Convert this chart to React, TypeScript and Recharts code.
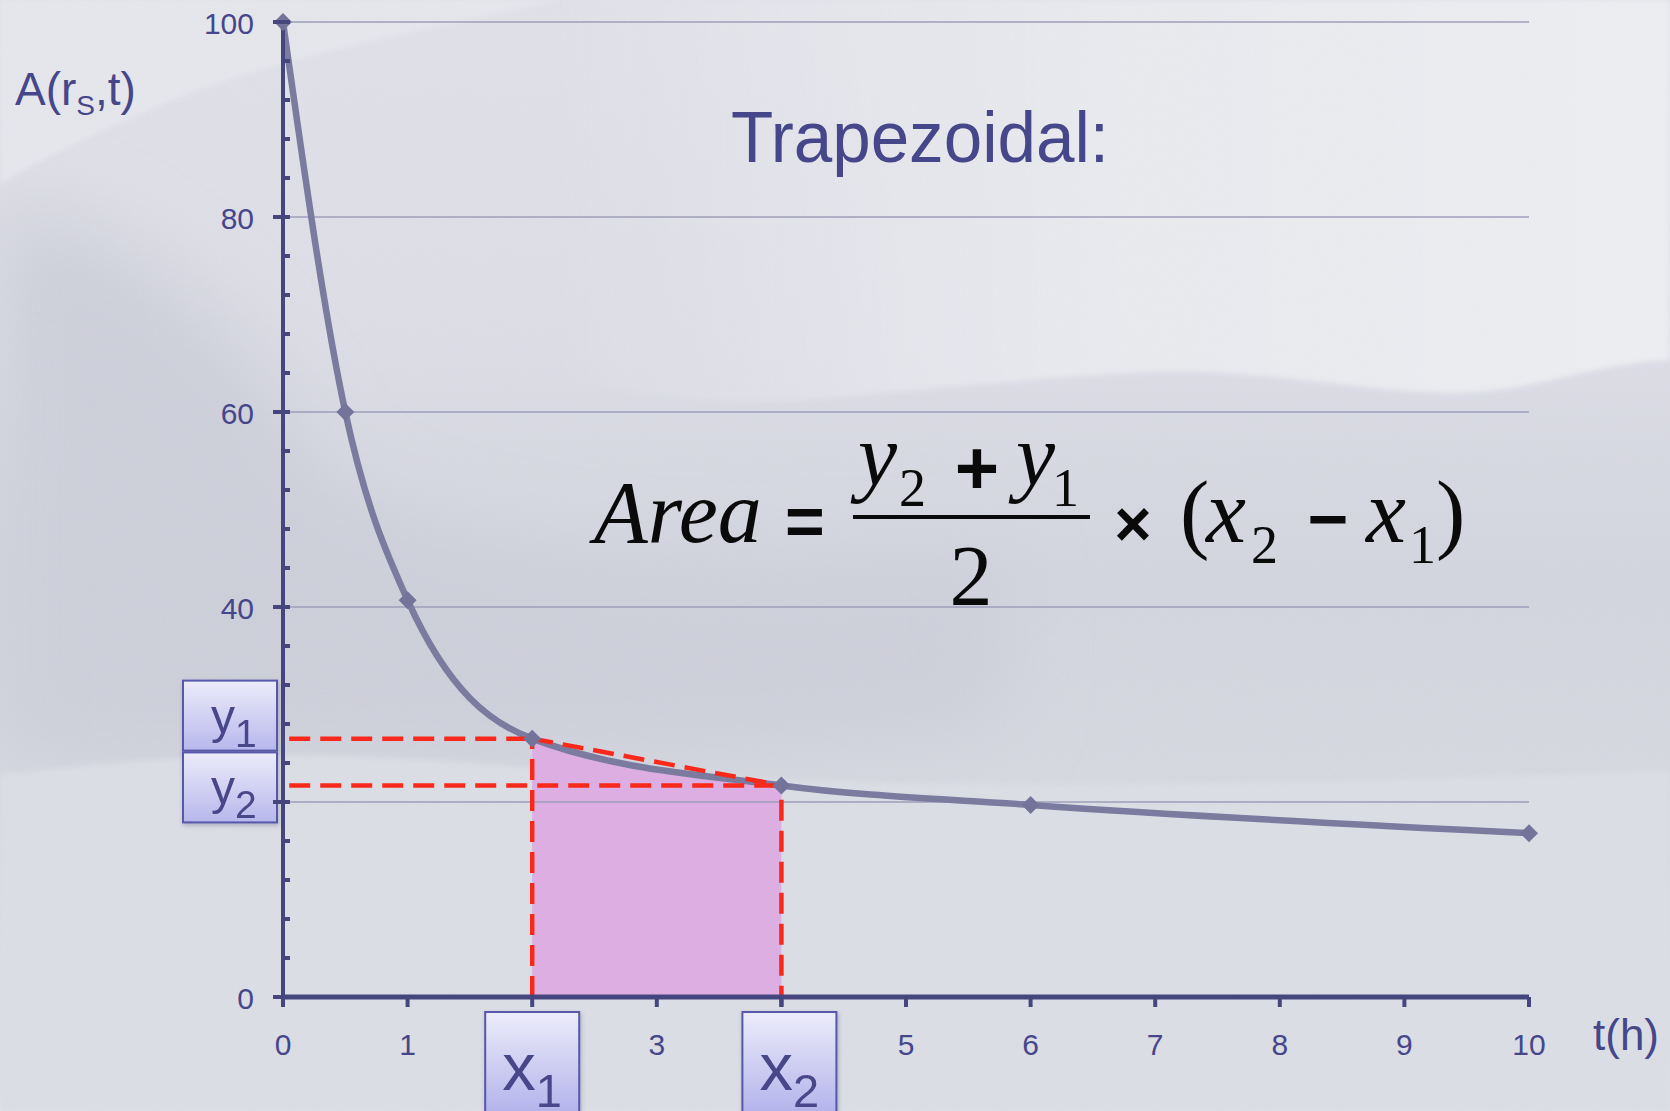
import {
  ComposedChart,
  Line,
  Area,
  XAxis,
  YAxis,
  ReferenceLine,
  ReferenceArea,
  ReferenceDot,
} from 'recharts'

// concentration curve samples
const TIME_H = [0, 0.5, 1, 2, 4, 6, 10]
const CONC = [100, 60, 40.7, 26.5, 21.7, 19.7, 16.8]

const X_TICKS = [0, 1, 2, 3, 4, 5, 6, 7, 8, 9, 10]
const Y_LABELS = [0, 20, 40, 60, 80, 100]
const Y_MINOR = [4, 8, 12, 16, 24, 28, 32, 36, 44, 48, 52, 56, 64, 68, 72, 76, 84, 88, 92, 96]
const GRID_Y = [20, 40, 60, 80, 100]

// trapezoid interval
const X1 = TIME_H[3]
const X2 = TIME_H[4]
const Y1 = CONC[3]
const Y2 = CONC[4]

// tick labels sitting under the x1/x2 and y1/y2 tags
const X_TAGGED = [X1, X2]
const Y_TAGGED = [20]

const data = TIME_H.map((t, i) => ({ t, a: CONC[i] }))

const W = 1670
const H = 1111
const AXIS = '#46467f'
const TEXT = '#46468a'
const LINE = '#7a7b9f'
const RED = '#f8291b'
const SANS = '"Liberation Sans", Arial, Helvetica, sans-serif'
const SERIF = '"Liberation Serif", "Times New Roman", serif'

function YTick(props: any) {
  const { x, y, payload } = props
  const v = payload.value
  const major = Y_LABELS.includes(v)
  return (
    <g>
      <line x1={major ? x - 10 : x} x2={x + 7} y1={y} y2={y} stroke={AXIS} strokeWidth={4} />
      {major && !Y_TAGGED.includes(v) && (
        <text x={x - 29} y={y + 12} textAnchor="end" fontSize={30} fill={TEXT} fontFamily={SANS}>
          {v}
        </text>
      )}
    </g>
  )
}

function XTick(props: any) {
  const { x, y, payload } = props
  return (
    <g>
      <line x1={x} x2={x} y1={y} y2={y + 10} stroke={AXIS} strokeWidth={4} />
      {!X_TAGGED.includes(payload.value) && (
        <text x={x} y={y + 58} textAnchor="middle" fontSize={30} fill={TEXT} fontFamily={SANS}>
          {payload.value}
        </text>
      )}
    </g>
  )
}

function Diamond(props: any) {
  const { cx, cy, index } = props
  if (cx == null || cy == null) return null
  return (
    <path
      key={`d-${index}`}
      d={`M${cx},${cy - 9}L${cx + 9},${cy}L${cx},${cy + 9}L${cx - 9},${cy}Z`}
      fill="#74749a"
    />
  )
}

// clip rect for the shaded segment, sized by the axis scales
function SegmentClip(props: any) {
  const { x, y, width, height } = props
  return (
    <defs>
      <clipPath id="segClip">
        <rect x={x} y={y} width={width} height={height} />
      </clipPath>
    </defs>
  )
}

const yBox = (sub: string, dy: number) => (props: any) => {
  const { cx, cy } = props
  const bx = cx - 100
  const by = cy + dy
  return (
    <g filter="url(#boxShadow)">
      <rect x={bx} y={by} width={94} height={70} fill="url(#boxGrad)" stroke="#5858aa" strokeWidth={2} />
      <text x={bx + 28} y={by + 52} fontSize={48} fill={TEXT} fontFamily={SANS}>
        y
        <tspan fontSize={39} dy={14}>
          {sub}
        </tspan>
      </text>
    </g>
  )
}

const xBox = (sub: string, dx: number) => (props: any) => {
  const { cx, cy } = props
  const bx = cx + dx
  const by = cy + 15
  return (
    <g filter="url(#boxShadow)">
      <rect x={bx} y={by} width={94} height={112} fill="url(#boxGradTall)" stroke="#5858aa" strokeWidth={2} />
      <text x={bx + 17} y={by + 78} fontSize={67} fill={TEXT} fontFamily={SANS}>
        x
        <tspan fontSize={47} dy={17}>
          {sub}
        </tspan>
      </text>
    </g>
  )
}

function Background() {
  return (
    <svg width={W} height={H} style={{ position: 'absolute', left: 0, top: 0 }}>
      <defs>
        <linearGradient id="boxGrad" x1="0" y1="0" x2="0" y2="1">
          <stop offset="0%" stopColor="#ececfa" />
          <stop offset="100%" stopColor="#b7b7ec" />
        </linearGradient>
        <linearGradient id="boxGradTall" x1="0" y1="0" x2="0" y2="1">
          <stop offset="0%" stopColor="#ececfa" />
          <stop offset="100%" stopColor="#adadea" />
        </linearGradient>
        <linearGradient id="bgBase" x1="0" y1="0" x2="0" y2="1">
          <stop offset="0%" stopColor="#e1e2e9" />
          <stop offset="32%" stopColor="#dcdde6" />
          <stop offset="52%" stopColor="#d3d5df" />
          <stop offset="68%" stopColor="#d6d8e1" />
          <stop offset="100%" stopColor="#dfe1e8" />
        </linearGradient>
        <linearGradient id="sheetFade" x1="0" y1="0" x2="1" y2="0">
          <stop offset="0%" stopColor="#e9eaef" stopOpacity="0" />
          <stop offset="45%" stopColor="#e9eaef" stopOpacity="1" />
          <stop offset="100%" stopColor="#eceef2" stopOpacity="1" />
        </linearGradient>
        <filter id="boxShadow" x="-20%" y="-20%" width="140%" height="140%">
          <feDropShadow dx="1" dy="2" stdDeviation="2" floodColor="#50507a" floodOpacity="0.35" />
        </filter>
        <filter id="soft" x="-20%" y="-20%" width="140%" height="140%">
          <feGaussianBlur stdDeviation="40" />
        </filter>
        <filter id="edge" x="-5%" y="-5%" width="110%" height="110%">
          <feGaussianBlur stdDeviation="2.5" />
        </filter>
        <filter id="grain">
          <feTurbulence type="fractalNoise" baseFrequency="0.85" numOctaves="2" stitchTiles="stitch" />
          <feColorMatrix type="saturate" values="0" />
          <feComponentTransfer>
            <feFuncA type="table" tableValues="0 0.07" />
          </feComponentTransfer>
        </filter>
      </defs>
      <rect width={W} height={H} fill="url(#bgBase)" />
      {/* shaded band on the left and through the middle */}
      <path
        d="M0,200 C120,230 260,330 320,480 C420,560 700,600 1000,560 L1000,720 C700,760 400,760 0,760 Z"
        fill="#cdcfda"
        filter="url(#soft)"
      />
      {/* light sheet in the upper right */}
      <path
        d="M560,0 L1670,0 L1670,360 C1580,365 1520,400 1420,392 C1320,385 1240,368 1150,372 C1020,378 920,392 800,400 C700,405 620,390 560,380 Z"
        fill="url(#sheetFade)"
        filter="url(#edge)"
      />
      {/* top left corner */}
      <path d="M0,0 L560,0 C420,30 260,60 150,110 C80,140 30,165 0,185 Z" fill="#e6e7ed" filter="url(#edge)" />
      {/* lower shelf */}
      <path
        d="M0,775 C120,760 260,748 460,762 C800,790 1200,790 1670,770 L1670,1111 L0,1111 Z"
        fill="#dcdee6"
        filter="url(#edge)"
      />
      <rect width={W} height={H} filter="url(#grain)" />
    </svg>
  )
}

function Annotations() {
  return (
    <svg width={W} height={H} style={{ position: 'absolute', left: 0, top: 0, pointerEvents: 'none' }}>
      <text x={15} y={105} fontSize={46} fill={TEXT} fontFamily={SANS}>
        A(r
        <tspan fontSize={28} dy={10}>
          S
        </tspan>
        <tspan dy={-10}>,t)</tspan>
      </text>
      <text
        x={731}
        y={162}
        fontSize={72}
        fill={TEXT}
        fontFamily={SANS}
        textLength={378}
        lengthAdjust="spacingAndGlyphs"
      >
        Trapezoidal:
      </text>
      <text x={1593} y={1050} fontSize={44} fill={TEXT} fontFamily={SANS}>
        t(h)
      </text>

      {/* Area = (y2 + y1)/2 × (x2 − x1) */}
      <g fill="#0a0a0a">
        <text x={594} y={542} fontSize={88} fontStyle="italic" fontFamily={SERIF}>
          Area
        </text>
        <text x={785} y={545} fontSize={68} fontWeight="bold" fontFamily={SANS}>
          =
        </text>
        <text x={858} y={485} fontSize={88} fontStyle="italic" fontFamily={SERIF}>
          y
        </text>
        <text x={899} y={506} fontSize={54} fontFamily={SERIF}>
          2
        </text>
        <text x={977} y={494} fontSize={76} textAnchor="middle" fontWeight="bold" fontFamily={SANS}>
          +
        </text>
        <text x={1016} y={485} fontSize={88} fontStyle="italic" fontFamily={SERIF}>
          y
        </text>
        <text x={1052} y={506} fontSize={54} fontFamily={SERIF}>
          1
        </text>
        <line x1={853} x2={1090} y1={517} y2={517} stroke="#0a0a0a" strokeWidth={4} />
        <text x={971} y={605} fontSize={86} textAnchor="middle" fontFamily={SERIF}>
          2
        </text>
        <text x={1133} y={546} fontSize={64} textAnchor="middle" fontWeight="bold" fontFamily={SANS}>
          ×
        </text>
        <text x={1180} y={542} fontSize={88} fontFamily={SERIF}>
          (
        </text>
        <text x={1206} y={542} fontSize={90} fontStyle="italic" fontFamily={SERIF}>
          x
        </text>
        <text x={1251} y={563} fontSize={54} fontFamily={SERIF}>
          2
        </text>
        <text x={1328} y={543} fontSize={70} textAnchor="middle" fontWeight="bold" fontFamily={SANS}>
          −
        </text>
        <text x={1366} y={542} fontSize={90} fontStyle="italic" fontFamily={SERIF}>
          x
        </text>
        <text x={1409} y={563} fontSize={54} fontFamily={SERIF}>
          1
        </text>
        <text x={1436} y={542} fontSize={88} fontFamily={SERIF}>
          )
        </text>
      </g>
    </svg>
  )
}

export default function App() {
  const dash = { stroke: RED, strokeWidth: 4.5, strokeDasharray: '21 10', ifOverflow: 'visible' as const }
  return (
    <div style={{ position: 'fixed', left: 0, top: 0, width: W, height: H, overflow: 'hidden' }}>
      <style>{'.seg-fill { clip-path: url(#segClip); }'}</style>
      <Background />
      <div style={{ position: 'absolute', left: 0, top: 0 }}>
        <ComposedChart width={W} height={H} data={data} margin={{ top: 22, right: 141, bottom: 54, left: 200 }}>
          {GRID_Y.map((v) => (
            <ReferenceLine key={`g${v}`} y={v} stroke="#9e9eba" strokeWidth={1.6} />
          ))}
          <ReferenceArea x1={X1} x2={X2} y1={0} y2={100} shape={SegmentClip} ifOverflow="visible" />
          <Area
            className="seg-fill"
            dataKey="a"
            type="monotone"
            stroke="none"
            fill="#dcaee2"
            fillOpacity={1}
            dot={false}
            activeDot={false}
            isAnimationActive={false}
          />
          <XAxis
            dataKey="t"
            type="number"
            domain={[0, 10]}
            ticks={X_TICKS}
            interval={0}
            height={60}
            tickSize={0}
            tickMargin={0}
            tickLine={false}
            axisLine={{ stroke: AXIS, strokeWidth: 5 }}
            tick={<XTick />}
          />
          <YAxis
            type="number"
            domain={[0, 100]}
            ticks={[...Y_LABELS, ...Y_MINOR].sort((p, q) => p - q)}
            interval={0}
            width={83}
            tickSize={0}
            tickMargin={0}
            tickLine={false}
            axisLine={{ stroke: AXIS, strokeWidth: 4 }}
            tick={<YTick />}
          />
          <Line
            dataKey="a"
            type="monotone"
            stroke={LINE}
            strokeWidth={6.5}
            dot={<Diamond />}
            activeDot={false}
            isAnimationActive={false}
          />
          <ReferenceLine segment={[{ x: 0.05, y: Y1 }, { x: X1, y: Y1 }]} {...dash} />
          <ReferenceLine segment={[{ x: 0.05, y: Y2 }, { x: X2, y: Y2 }]} {...dash} />
          <ReferenceLine segment={[{ x: X1, y: 0 }, { x: X1, y: Y1 }]} {...dash} />
          <ReferenceLine segment={[{ x: X2, y: -1 }, { x: X2, y: Y2 }]} {...dash} />
          <ReferenceLine segment={[{ x: X1, y: Y1 }, { x: X2, y: Y2 }]} {...dash} />
          <ReferenceDot x={0} y={Y1} shape={yBox('1', -58)} ifOverflow="visible" />
          <ReferenceDot x={0} y={Y2} shape={yBox('2', -33)} ifOverflow="visible" />
          <ReferenceDot x={X1} y={0} shape={xBox('1', -47)} ifOverflow="visible" />
          <ReferenceDot x={X2} y={0} shape={xBox('2', -39)} ifOverflow="visible" />
        </ComposedChart>
      </div>
      <Annotations />
    </div>
  )
}
